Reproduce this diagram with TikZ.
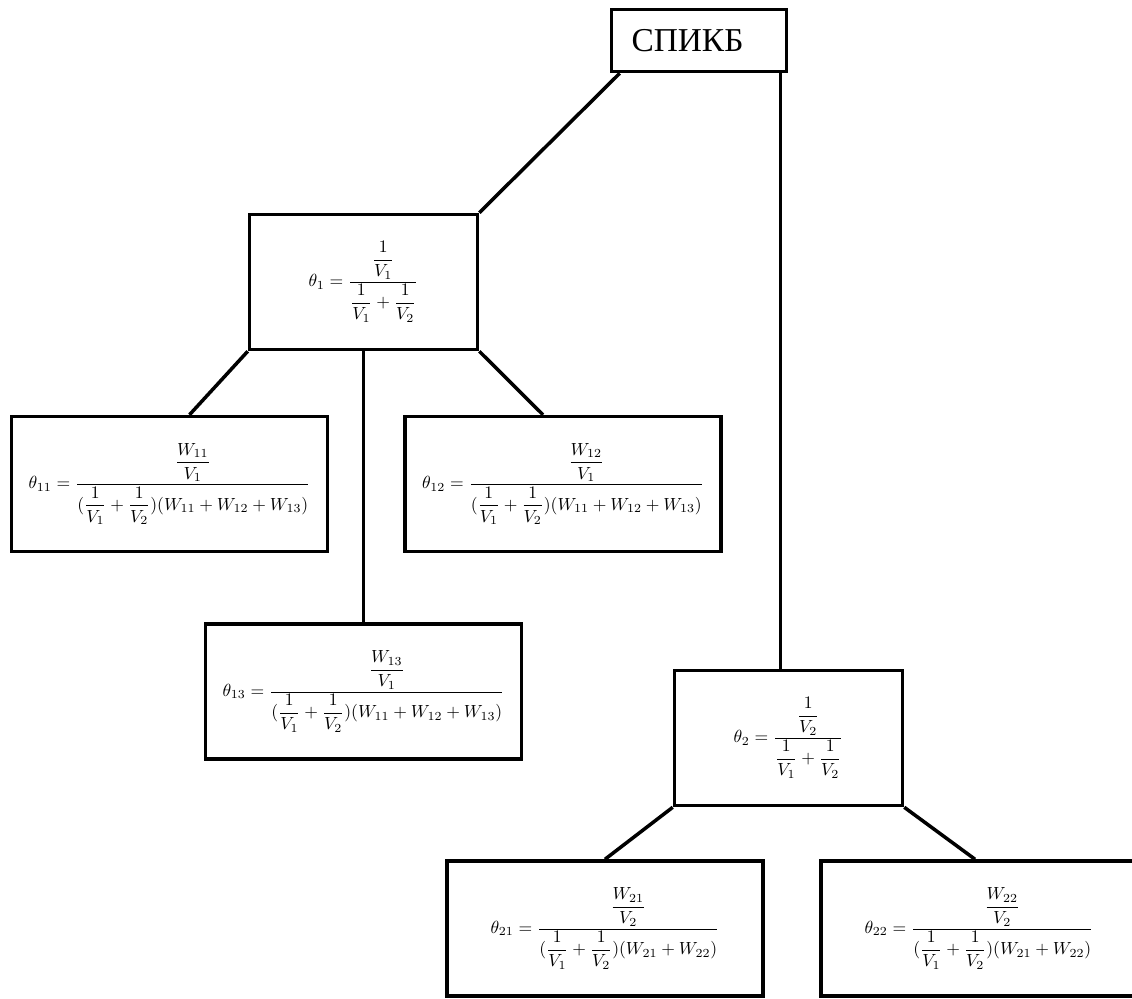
\documentclass[tikz,border=0pt]{standalone}
\usepackage{amsmath}
\usepackage{fontspec}
\newfontfamily\cyrfont{Liberation Serif}
\usetikzlibrary{positioning}

\tikzset{
  box/.style={draw, line width=2pt, minimum height=2.7cm,
    font=\fontsize{10}{12}\selectfont},
  narrowbox/.style={box, minimum width=4.56cm},
  widebox/.style={box, minimum width=6.32cm},
  link/.style={line width=2pt}
}

\begin{document}
\begin{tikzpicture}[on grid]
\useasboundingbox (0,0) rectangle (22.64,-19.96);
\node[draw, line width=2pt, minimum width=3.5cm, minimum height=1.24cm,
    inner xsep=0.4cm, text width=2.7cm, align=left,
    font=\cyrfont\fontsize{19}{22}\selectfont] (top) at (13.98,-0.81) {СПИКБ};
\node[narrowbox, below left=4.83cm and 6.71cm of top] (th1)
    {$\theta_1=\dfrac{\dfrac{1}{V_1}}{\dfrac{1}{V_1}+\dfrac{1}{V_2}}$};
\node[widebox, below left=4.04cm and 3.88cm of th1] (th11)
    {$\theta_{11}=\dfrac{\dfrac{W_{11}}{V_1}}{(\dfrac{1}{V_1}+\dfrac{1}{V_2})(W_{11}+W_{12}+W_{13})}$};
\node[widebox, below right=4.04cm and 3.99cm of th1] (th12)
    {$\theta_{12}=\dfrac{\dfrac{W_{12}}{V_1}}{(\dfrac{1}{V_1}+\dfrac{1}{V_2})(W_{11}+W_{12}+W_{13})}$};
\node[widebox, below=8.19cm of th1] (th13)
    {$\theta_{13}=\dfrac{\dfrac{W_{13}}{V_1}}{(\dfrac{1}{V_1}+\dfrac{1}{V_2})(W_{11}+W_{12}+W_{13})}$};
\node[narrowbox, below right=13.95cm and 1.79cm of top] (th2)
    {$\theta_2=\dfrac{\dfrac{1}{V_2}}{\dfrac{1}{V_1}+\dfrac{1}{V_2}}$};
\node[widebox, below left=3.81cm and 3.67cm of th2] (th21)
    {$\theta_{21}=\dfrac{\dfrac{W_{21}}{V_2}}{(\dfrac{1}{V_1}+\dfrac{1}{V_2})(W_{21}+W_{22})}$};
\node[widebox, below right=3.81cm and 3.81cm of th2] (th22)
    {$\theta_{22}=\dfrac{\dfrac{W_{22}}{V_2}}{(\dfrac{1}{V_1}+\dfrac{1}{V_2})(W_{21}+W_{22})}$};
\coordinate (drop) at ([xshift=-0.16cm]top.south east);
\draw[link]
    ([xshift=0.2cm]top.south west) edge (th1.north east)
    (drop) edge (drop |- th2.north)
    (th1.south west) edge ([xshift=0.4cm]th11.north)
    (th1.south) edge (th13.north)
    (th1.south east) edge ([xshift=-0.4cm]th12.north)
    (th2.south west) edge (th21.north)
    (th2.south east) edge ([xshift=-0.08cm]th22.north);
\end{tikzpicture}
\end{document}
